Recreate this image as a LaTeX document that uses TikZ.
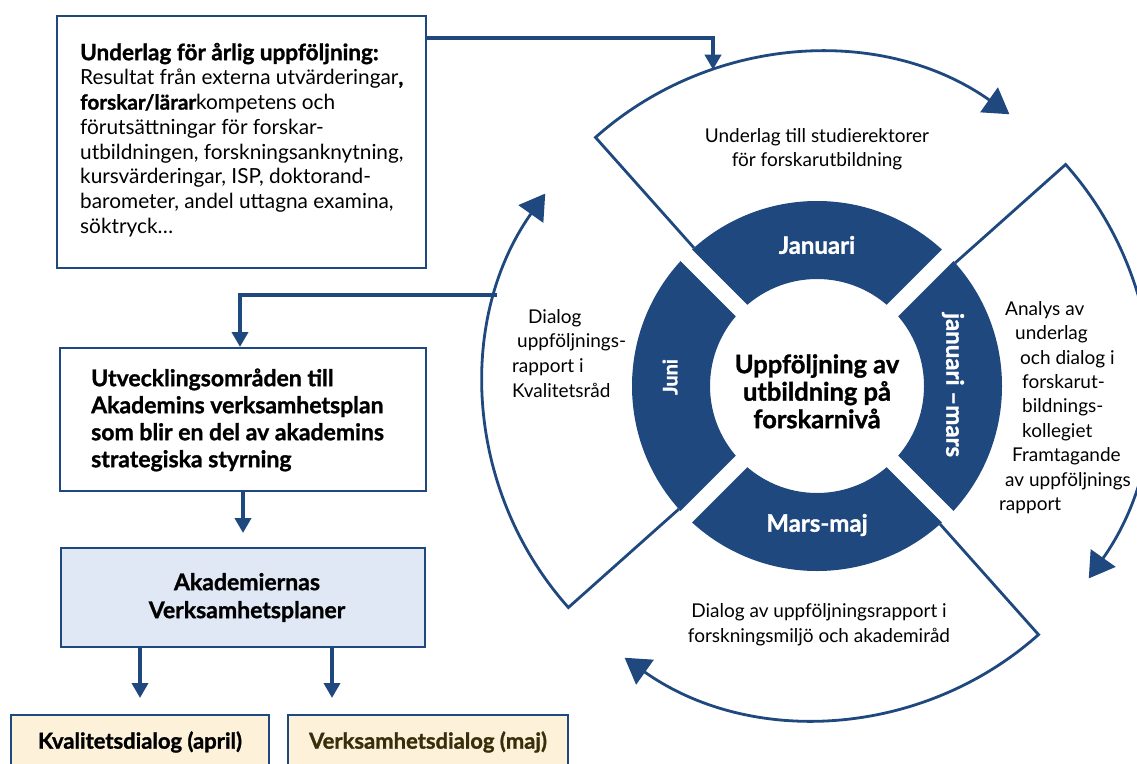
\documentclass[tikz,border=0pt]{standalone}
\usepackage{fontspec}
\setmainfont{Lato}[BoldFeatures={FakeBold=1.2}]
\usetikzlibrary{arrows.meta,calc}
\definecolor{dkblue}{RGB}{30,72,126}
\definecolor{boxblue}{RGB}{224,232,246}
\definecolor{boxcream}{RGB}{253,241,217}
\definecolor{olivetext}{RGB}{58,46,10}
\begin{document}
\begin{tikzpicture}[x=1pt,y=-1pt,
  sectorline/.style={draw=dkblue, line width=2.8pt, line join=miter},
  secarrow/.style={sectorline, -{Triangle[length=25pt,width=30pt]}},
  conn/.style={draw=dkblue, line width=4pt, -{Triangle[length=15pt,width=16pt]}},
  boxstyle/.style={draw=dkblue, line width=2pt, rectangle, inner sep=0pt},
  plain/.style={inner sep=0pt, align=left},
  seglabel/.style={text=white, font=\bfseries\fontsize{24}{28}\selectfont, inner sep=0pt},
  sectext/.style={inner sep=0pt, font=\fontsize{19}{24.4}\selectfont},
]
\useasboundingbox (0,0) rectangle (1137,763);
\clip (0,0) rectangle (1137,763);
\fill[white] (0,0) rectangle (1137,763);

% ---- left column boxes ----
\node[boxstyle, minimum width=369pt, minimum height=252pt, anchor=north west] (A) at (56,15) {};
\node[plain, anchor=north west, font=\fontsize{20.8}{24.7}\selectfont] (Atext) at (80,42)
 {\rule{0pt}{18pt}{\bfseries\fontsize{22.5}{24.7}\selectfont Underlag för årlig uppföljning:}\\
  Resultat från externa utvärderingar\textbf{,}\\
  \textbf{forskar/lärar}kompetens och\\
  förutsättningar för forskar-\\
  utbildningen, forskningsanknytning,\\
  kursvärderingar, ISP, doktorand-\\
  barometer, andel uttagna examina,\\
  söktryck…};

\node[boxstyle, minimum width=366pt, minimum height=143pt, anchor=north west] (B) at (59,347) {};
\node[plain, anchor=north west, font=\bfseries\fontsize{23}{27}\selectfont] (Btext) at (91,367.6)
 {\rule{0pt}{18.4pt}Utvecklingsområden till\\Akademins verksamhetsplan\\som blir en del av akademins\\strategiska styrning};

\node[boxstyle, fill=boxblue, minimum width=364pt, minimum height=99pt, anchor=north west,
      align=center, font=\bfseries\fontsize{23}{28}\selectfont] (C) at (60,547)
 {\hspace*{8pt}Akademiernas\\\hspace*{8pt}Verksamhetsplaner};

\node[boxstyle, fill=boxcream, minimum width=258pt, minimum height=54pt, anchor=north west,
      font=\bfseries\fontsize{22}{26}\selectfont] (D) at (10,714) {Kvalitetsdialog (april)};
\node[boxstyle, fill=boxcream, minimum width=280pt, minimum height=54pt, anchor=north west,
      font=\bfseries\fontsize{22}{26}\selectfont, text=olivetext] (E) at (287,714) {Verksamhetsdialog (maj)};

% ---- wheel ----
\coordinate (C0) at (817,386);
\fill[dkblue, even odd rule] (C0) circle[radius=185] (C0) circle[radius=107];
\foreach \a in {45,135,225,315}
  \draw[white, line width=16pt] ($(C0)+(\a:100)$) -- ($(C0)+(\a:192)$);

\node[seglabel] (jan) at (817,245) {Januari};
\node[seglabel, rotate=-90] (janmars) at (953,385) {januari –mars};
\node[seglabel, font=\bfseries\fontsize{20}{24}\selectfont, rotate=90] (juni) at (670,377) {Juni};
\node[seglabel] (marsmaj) at (817,525) {Mars-maj};

\node[plain, align=center, anchor=north, font=\bfseries\fontsize{25.5}{27.5}\selectfont] (hub) at (817,352.6)
 {\rule{0pt}{20.4pt}Uppföljning av\\utbildning på\\forskarnivå};

% ---- outer sectors ----
\draw[secarrow] ($(C0)+(-131.7:185)$) -- ($(C0)+(-131.7:333)$) arc[start angle=-131.7, end angle=-54.7, radius=333];
\draw[secarrow] ($(C0)+(-41.7:185)$) -- ($(C0)+(-41.7:333)$) arc[start angle=-41.7, end angle=35.3, radius=333];
\draw[secarrow] ($(C0)+(48.3:185)$) -- ($(C0)+(48.3:333)$) arc[start angle=48.3, end angle=125.3, radius=333];
\draw[secarrow] ($(C0)+(138.3:185)$) -- ($(C0)+(138.3:333)$) arc[start angle=138.3, end angle=215.3, radius=333];

\node[sectext, align=center, anchor=north, font=\fontsize{19}{24}\selectfont] (toptext) at (817,127)
 {\rule{0pt}{15pt}Underlag till studierektorer\\för forskarutbildning};
\node[sectext, align=left, anchor=north west] (righttext) at (999,299.8)
 {\rule{0pt}{15.2pt}\hspace*{6pt}Analys av\\\hspace*{16pt}underlag\\\hspace*{21pt}och dialog i\\\hspace*{23pt}forskarut-\\\hspace*{23pt}bildnings-\\\hspace*{23pt}kollegiet\\\hspace*{13pt}Framtagande\\\hspace*{6pt}av uppföljnings\\rapport};
\node[sectext, align=left, anchor=north west, font=\fontsize{19}{24.7}\selectfont] (lefttext) at (512,307.8)
 {\rule{0pt}{15.2pt}\hspace*{16pt}Dialog\\\hspace*{5pt}uppföljnings-\\rapport i\\Kvalitetsråd};
\node[sectext, align=center, anchor=north, font=\fontsize{19}{25}\selectfont] (bottext) at (819,601.8)
 {\rule{0pt}{15.2pt}Dialog av uppföljningsrapport i\\forskningsmiljö och akademiråd};

% ---- connectors ----
\coordinate (T) at ($(C0)+(-108.2:333)$);
\coordinate (L) at ($(C0)+(195.9:333)$);
\draw[conn] ($(A.north east)+(0,23)$) -| (T);
\draw[conn] (L) -| ([xshift=-3pt]B.north);
\draw[conn, shorten >=14pt] (B.south) -- (C.north);
\draw[conn, shorten >=16pt] (C.south -| D.north) -- (D.north);
\coordinate (Cr) at ($(C.south)+(89,0)$);
\draw[conn, shorten >=16pt] (Cr) -- (Cr |- E.north);
\end{tikzpicture}
\end{document}
